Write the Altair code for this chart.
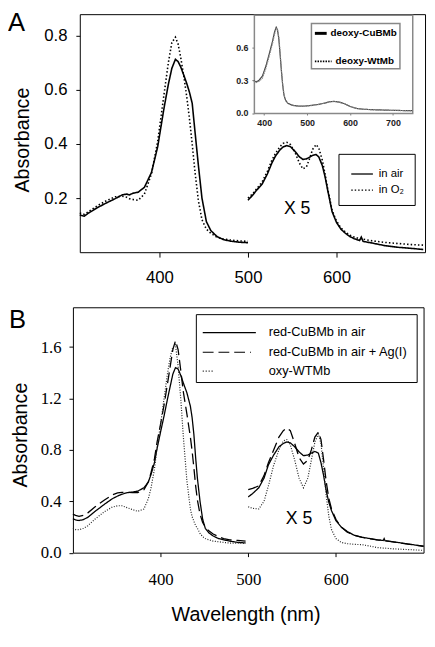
import altair as alt
import pandas as pd

# ---------------- data ----------------
# Panel A, Soret region (310-500 nm)
A_SOR_NM = [310, 315, 320, 330, 340, 350, 358, 363, 366, 370, 376, 383, 391, 398, 405, 410, 414, 418, 421, 424,
            428, 431, 434, 437, 440, 444, 448, 453, 458, 465, 472, 480, 490, 500]
A_SOR_AIR = [0.138, 0.133, 0.145, 0.165, 0.182, 0.198, 0.212, 0.215, 0.212, 0.218, 0.222, 0.24, 0.295, 0.39, 0.53,
             0.62, 0.68, 0.713, 0.705, 0.685, 0.65, 0.622, 0.59, 0.55, 0.45, 0.32, 0.2, 0.113, 0.08, 0.058,
             0.047, 0.041, 0.037, 0.035]
A_SOR_O2 = [0.145, 0.14, 0.15, 0.172, 0.19, 0.205, 0.207, 0.203, 0.198, 0.195, 0.192, 0.215, 0.29, 0.41, 0.58,
            0.70, 0.775, 0.795, 0.77, 0.72, 0.64, 0.57, 0.49, 0.40, 0.30, 0.19, 0.12, 0.085, 0.07, 0.055,
            0.049, 0.045, 0.042, 0.04]
# Panel A, visible region (x5)
A_VIS_NM = [500, 505, 510, 516, 522, 527, 531, 536, 540, 544, 548, 553, 558, 562, 566, 570, 573, 577, 580, 584,
            587, 590, 595, 600, 605, 610, 615, 620, 626, 628, 630, 640, 655, 670, 685, 698]
A_VIS_AIR = [0.192, 0.21, 0.23, 0.252, 0.29, 0.33, 0.355, 0.378, 0.39, 0.394, 0.39, 0.373, 0.353, 0.343, 0.345,
             0.352, 0.358, 0.361, 0.352, 0.32, 0.28, 0.23, 0.15, 0.11, 0.085, 0.07, 0.058, 0.05, 0.043, 0.056,
             0.04, 0.034, 0.024, 0.018, 0.014, 0.01]
A_VIS_O2 = [0.2, 0.215, 0.235, 0.26, 0.3, 0.34, 0.365, 0.39, 0.403, 0.406, 0.398, 0.37, 0.33, 0.308, 0.315,
            0.35, 0.38, 0.398, 0.385, 0.34, 0.29, 0.235, 0.155, 0.115, 0.09, 0.075, 0.063, 0.056, 0.05, 0.05,
            0.048, 0.042, 0.036, 0.032, 0.028, 0.026]
# Inset (deoxy spectra)
INS_NM = [376, 381, 388, 396, 404, 411, 419, 424, 428, 431, 434, 437, 440, 443, 446, 450, 455, 465, 480, 495,
          510, 525, 540, 552, 562, 575, 587, 600, 615, 630, 650, 680, 710, 745]
INS_CUB = [0.295, 0.285, 0.3, 0.34, 0.43, 0.53, 0.65, 0.74, 0.785, 0.76, 0.68, 0.54, 0.39, 0.26, 0.165, 0.115,
           0.09, 0.072, 0.063, 0.064, 0.07, 0.078, 0.09, 0.103, 0.107, 0.1, 0.085, 0.06, 0.042, 0.035,
           0.031, 0.027, 0.024, 0.021]
INS_WT = [0.29, 0.278, 0.29, 0.32, 0.41, 0.51, 0.63, 0.72, 0.775, 0.765, 0.70, 0.56, 0.40, 0.27, 0.17, 0.115,
          0.088, 0.07, 0.06, 0.062, 0.068, 0.077, 0.09, 0.102, 0.105, 0.1, 0.086, 0.062, 0.043, 0.035,
          0.03, 0.026, 0.023, 0.02]
# Panel B, Soret region
B_SOR_NM = [300, 303, 307, 312, 317, 325, 336, 345, 351, 356, 362, 368, 374, 381, 386, 389, 393, 396, 400, 404,
            408, 411, 414, 417, 420, 423, 426, 430, 434, 436, 438, 440, 442, 445, 448, 451, 455, 460, 466, 472,
            479, 488, 497]
B_SOR_RED = [0.265, 0.255, 0.25, 0.258, 0.275, 0.32, 0.377, 0.42, 0.441, 0.455, 0.467, 0.472, 0.479, 0.505,
             0.55, 0.607, 0.70, 0.81, 0.94, 1.065, 1.2, 1.295, 1.39, 1.44, 1.43, 1.38, 1.32, 1.245, 1.14, 1.05,
             0.92, 0.74, 0.58, 0.40, 0.26, 0.19, 0.155, 0.13, 0.11, 0.1, 0.09, 0.08, 0.076]
B_SOR_AG = [0.30, 0.29, 0.283, 0.29, 0.31, 0.355, 0.41, 0.45, 0.465, 0.47, 0.47, 0.468, 0.468, 0.49, 0.55, 0.62,
            0.73, 0.86, 1.0, 1.15, 1.32, 1.45, 1.58, 1.65, 1.58, 1.42, 1.25, 1.08, 0.9, 0.79, 0.66, 0.52, 0.41,
            0.30, 0.235, 0.2, 0.17, 0.145, 0.125, 0.11, 0.1, 0.095, 0.09]
B_SOR_OXY = [0.19, 0.18, 0.178, 0.19, 0.21, 0.26, 0.32, 0.355, 0.365, 0.365, 0.35, 0.335, 0.322, 0.34, 0.42, 0.5,
             0.65, 0.82, 1.0, 1.2, 1.4, 1.52, 1.6, 1.62, 1.45, 1.2, 0.9, 0.56, 0.34, 0.28, 0.245, 0.21, 0.19,
             0.15, 0.125, 0.11, 0.1, 0.09, 0.085, 0.08, 0.075, 0.075, 0.072]
# Panel B, visible region (x5)
B_VIS_NM = [500, 505, 512, 518, 523, 529, 535, 540, 544, 548, 553, 558, 563, 568, 572, 576, 580, 583, 586, 589,
            592, 595, 600, 606, 613, 621, 630, 640, 647, 654, 655, 656, 665, 680, 700]
B_VIS_RED = [0.434, 0.46, 0.505, 0.58, 0.683, 0.76, 0.824, 0.85, 0.862, 0.855, 0.824, 0.785, 0.755, 0.76, 0.775,
             0.788, 0.775, 0.70, 0.60, 0.48, 0.39, 0.327, 0.25, 0.20, 0.165, 0.135, 0.12, 0.108, 0.10, 0.095,
             0.11, 0.093, 0.085, 0.07, 0.05]
B_VIS_AG = [0.49, 0.50, 0.52, 0.60, 0.70, 0.80, 0.90, 0.95, 0.97, 0.95, 0.85, 0.74, 0.69, 0.72, 0.80, 0.90,
            0.938, 0.88, 0.72, 0.55, 0.42, 0.34, 0.26, 0.20, 0.16, 0.135, 0.12, 0.108, 0.10, 0.095, 0.095,
            0.093, 0.085, 0.068, 0.05]
B_VIS_OXY = [0.357, 0.345, 0.34, 0.40, 0.52, 0.68, 0.80, 0.87, 0.88, 0.84, 0.72, 0.58, 0.505, 0.58, 0.72, 0.86,
             0.925, 0.85, 0.65, 0.44, 0.28, 0.18, 0.11, 0.08, 0.07, 0.065, 0.062, 0.05, 0.04, 0.036, 0.036,
             0.035, 0.03, 0.025, 0.018]

A_TICKS_X = [400, 500, 600]
A_TICKS_Y = [0.2, 0.4, 0.6, 0.8]
INS_TICKS_X = [400, 500, 600, 700]
INS_TICKS_Y = [0.0, 0.3, 0.6]
B_TICKS_X = [400, 500, 600]
B_TICKS_Y = [0.0, 0.4, 0.8, 1.2, 1.6]

# ---------------- layout helpers ----------------
OFF = 8
W, H = 426, 632


def px(v):
    return v - OFF


def seg_df(nm_vis, vals_vis, nm_sor=None, vals_sor=None):
    rows = []
    if nm_sor is not None:
        rows += [{"nm": x, "abs": v, "seg": "soret"} for x, v in zip(nm_sor, vals_sor)]
    rows += [{"nm": x, "abs": v, "seg": "visible"} for x, v in zip(nm_vis, vals_vis)]
    return pd.DataFrame(rows)


one = pd.DataFrame({"k": [0]})


def box(x0, x1, y0, y1, stroke="black", sw=1.0, fill="white", fop=1.0):
    return alt.Chart(one).mark_rect(fill=fill, fillOpacity=fop, stroke=stroke, strokeWidth=sw).encode(
        x=alt.value(px(x0) + 0.5), x2=alt.value(px(x1) + 0.5),
        y=alt.value(px(y0) + 0.5), y2=alt.value(px(y1) + 0.5))


def seg(x0, x1, y, sw=1.2, color="black", dash=None):
    kw = dict(color=color, strokeWidth=sw)
    if dash is not None:
        kw["strokeDash"] = dash
    return alt.Chart(one).mark_rule(**kw).encode(
        x=alt.value(px(x0)), x2=alt.value(px(x1)), y=alt.value(px(y)))


def label(s, x, y, size, font="Liberation Sans", align="left", angle=0, weight="normal", color="black"):
    return alt.Chart(one).mark_text(text=s, fontSize=size, font=font, align=align, baseline="middle",
                                    angle=angle, fontWeight=weight, color=color).encode(
        x=alt.value(px(x)), y=alt.value(px(y)))


def line_layer(df, xs, ys, dash, sw, color, xaxis=None, yaxis=None):
    return alt.Chart(df).mark_line(strokeDash=dash, strokeWidth=sw, color=color).encode(
        x=alt.X("nm:Q", scale=xs, axis=xaxis),
        y=alt.Y("abs:Q", scale=ys, axis=yaxis),
        detail="seg:N",
    )


def axis(orient, offset, values, font, size, tick, pad, fmt, weight="normal", color="black", dcolor="black"):
    return alt.Axis(orient=orient, offset=offset, values=values, grid=False, domain=False, title=None,
                    tickSize=tick, tickColor=dcolor, labelFont=font, labelFontSize=size,
                    labelFontWeight=weight, labelColor=color, labelPadding=pad, labelFlush=False,
                    labelOverlap=False, format=fmt)


# ---------------- panel A ----------------
xA = alt.Scale(domain=[310, 700], range=[px(81), px(432)], zero=False, nice=False)
yA = alt.Scale(domain=[0, 0.88], range=[px(251), px(9)], zero=False, nice=False)
axAx = axis("bottom", px(251) - H, A_TICKS_X, "Liberation Sans", 17, 5, 13, "d")
axAy = axis("left", -px(81), A_TICKS_Y, "Liberation Sans", 17, 4, 9, ".1f")

A_air = line_layer(seg_df(A_VIS_NM, A_VIS_AIR, A_SOR_NM, A_SOR_AIR), xA, yA, [1, 0], 1.6, "black", axAx, axAy)
A_o2 = line_layer(seg_df(A_VIS_NM, A_VIS_O2, A_SOR_NM, A_SOR_O2), xA, yA, [1.5, 2.2], 1.6, "black")

# inset
xI = alt.Scale(domain=[376, 745], range=[px(258), px(419)], zero=False, nice=False)
yI = alt.Scale(domain=[0, 0.9], range=[px(109.5), px(9.5)], zero=False, nice=False)
axIx = axis("bottom", px(109.5) - H, INS_TICKS_X, "Liberation Sans", 9, 2, 4, "d", "bold", "#222", "#777")
axIy = axis("left", -px(258), INS_TICKS_Y, "Liberation Sans", 9, 2, 4, ".1f", "bold", "#222", "#777")
I_cub = line_layer(seg_df(INS_NM, INS_CUB), xI, yI, [1, 0], 1.2, "#444", axIx, axIy)
I_wt = line_layer(seg_df(INS_NM, INS_WT), xI, yI, [1.5, 1], 1.2, "#888")

# ---------------- panel B ----------------
xB = alt.Scale(domain=[300, 700], range=[px(74), px(430.5)], zero=False, nice=False)
yB = alt.Scale(domain=[0, 1.91], range=[px(556.5), px(307)], zero=False, nice=False)
axBx = axis("bottom", px(556.5) - H, B_TICKS_X, "Liberation Serif", 17, 4, 15, "d")
axBy = axis("left", -px(74), B_TICKS_Y, "Liberation Serif", 17, 4, 8, ".1f")
B_red = line_layer(seg_df(B_VIS_NM, B_VIS_RED, B_SOR_NM, B_SOR_RED), xB, yB, [1, 0], 1.3, "black", axBx, axBy)
B_ag = line_layer(seg_df(B_VIS_NM, B_VIS_AG, B_SOR_NM, B_SOR_AG), xB, yB, [11, 5], 1.3, "black")
B_oxy = line_layer(seg_df(B_VIS_NM, B_VIS_OXY, B_SOR_NM, B_SOR_OXY), xB, yB, [1, 1.6], 1.2, "#222")

layers = [
    # panel A
    box(81, 432, 9, 251, fop=0),
    A_air, A_o2,
    label("X 5", 302, 207, 18, align="center"),
    box(344, 421.5, 151, 203),
    seg(357, 379, 171.5, sw=1.3),
    seg(357, 379, 188, sw=1.3, dash=[1.5, 2]),
    label("in air", 385, 171.5, 11.5),
    label("in O\u2082", 385, 188, 11.5),
    # inset
    box(258, 419, 9.5, 109.5, stroke="#888", sw=1.5),
    I_cub, I_wt,
    box(316, 406, 18, 64, stroke="#888", sw=1.5),
    seg(320, 332, 28.5, sw=3),
    seg(320, 337, 57, sw=2, dash=[1.5, 1.2]),
    label("deoxy-CuBMb", 336, 28.5, 10, weight="bold"),
    label("deoxy-WtMb", 341, 57, 10, weight="bold"),
    # panel B
    box(74, 430.5, 307, 556.5, fop=0),
    B_red, B_ag, B_oxy,
    label("X 5", 304, 522, 18, align="center"),
    box(199, 423.5, 314, 383),
    seg(206, 260, 332.7, sw=1.2),
    seg(206, 255, 352.7, sw=1.2, dash=[11, 5]),
    seg(206, 217, 372, sw=1.2, dash=[1, 2]),
    label("red-CuBMb in air", 273, 332.7, 13),
    label("red-CuBMb in air + Ag(I)", 273, 352.7, 13),
    label("oxy-WTMb", 273, 372, 13),
    # titles and panel letters
    label("A", 8, 18, 26),
    label("B", 9, 320, 26),
    label("Absorbance", 23, 137, 20, align="center", angle=270),
    label("Absorbance", 21, 437, 20, align="center", angle=270),
    label("Wavelength (nm)", 250, 620, 20, align="center"),
]

chart = alt.layer(*layers).resolve_scale(x="independent", y="independent").properties(
    width=W, height=H, autosize=alt.AutoSizeParams(type="none"), padding=0
).configure_view(stroke=None)

chart.save("out.html", embed_options={"renderer": "svg", "actions": False})
